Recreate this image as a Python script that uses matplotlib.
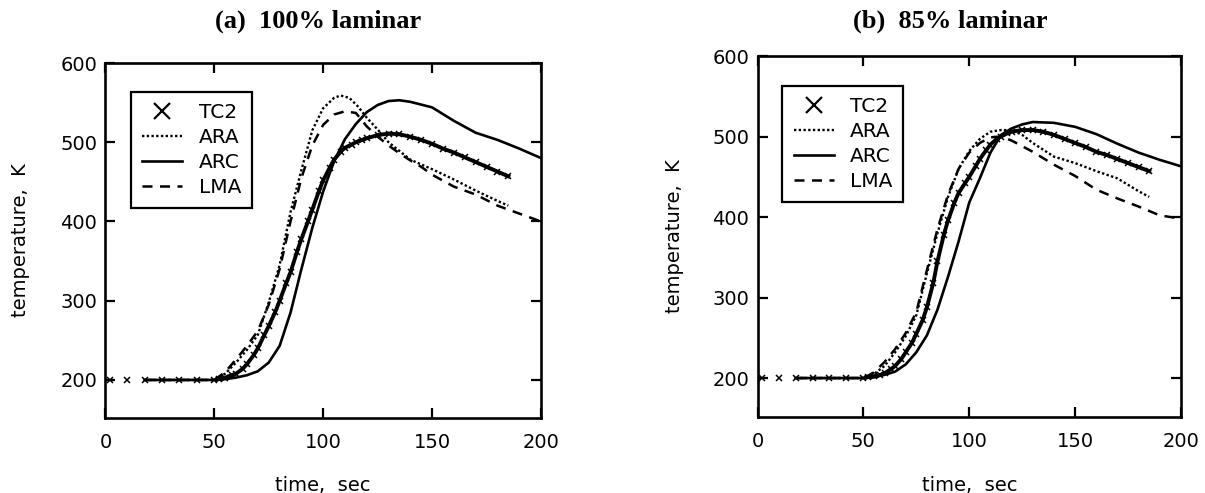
import matplotlib
matplotlib.use("Agg")
import matplotlib.pyplot as plt
from matplotlib.lines import Line2D

plt.rcParams['font.family'] = ['DejaVu Sans']

# ---------------- data: panel (a) 100% laminar ----------------
tc2_sparse_t = [2, 10, 18, 26, 34, 42, 50]
tc2_sparse_T = [200, 200, 200, 200, 200, 200, 200]

a_tc2_t = [52, 55, 58, 60, 63, 65, 68, 70, 73, 75, 78, 80, 83, 85, 88, 90, 93, 95, 98, 100,
           103, 105, 108, 110, 113, 115, 118, 120, 125, 130, 135, 140, 145, 150, 155, 160,
           165, 170, 175, 180, 185]
a_tc2_T = [201, 203, 206, 208, 214, 220, 231, 240, 257, 268, 286, 300, 322, 336, 362, 378,
           400, 415, 438, 452, 468, 478, 488, 493, 497, 500, 503, 505, 509, 511, 510, 507,
           503, 498, 492, 487, 481, 475, 469, 463, 457]

a_ara_t = [18, 50, 55, 60, 65, 70, 75, 80, 85, 90, 95, 100, 105, 108, 112, 116, 120, 125,
           130, 140, 150, 160, 170, 180, 185]
a_ara_T = [200, 200, 208, 222, 238, 257, 298, 345, 412, 465, 515, 543, 556, 559, 556, 545,
           531, 516, 500, 478, 466, 453, 439, 426, 420]

a_arc_t = [18, 50, 55, 60, 65, 70, 75, 80, 85, 90, 95, 100, 105, 110, 115, 120, 125, 130,
           135, 140, 150, 160, 170, 180, 190, 200]
a_arc_T = [200, 200, 201, 203, 206, 211, 222, 243, 285, 340, 392, 438, 476, 504, 523, 538,
           547, 552, 553, 551, 544, 527, 512, 503, 492, 480]

a_lma_t = [18, 50, 55, 60, 65, 70, 75, 80, 85, 90, 95, 100, 105, 110, 115, 120, 125, 130,
           135, 140, 145, 150, 160, 170, 180, 190, 200]
a_lma_T = [200, 200, 210, 226, 243, 262, 295, 340, 400, 455, 496, 522, 535, 539, 537, 520,
           507, 496, 486, 477, 469, 459, 444, 434, 420, 410, 400]

# ---------------- data: panel (b) 85% laminar ----------------
b_tc2_t = [52, 55, 58, 60, 63, 65, 68, 70, 73, 75, 78, 80, 83, 85, 88, 90, 93, 95, 98, 100,
           103, 105, 108, 110, 113, 115, 118, 120, 125, 130, 135, 140, 145, 150, 155, 160,
           165, 170, 175, 180, 185]
b_tc2_T = [201, 202, 204, 206, 211, 215, 224, 232, 244, 255, 272, 288, 318, 345, 378, 396,
           418, 430, 442, 450, 463, 472, 483, 490, 497, 500, 504, 506, 508, 508, 506, 502,
           497, 492, 487, 481, 477, 472, 467, 462, 457]

b_ara_t = [18, 50, 55, 60, 65, 70, 75, 80, 85, 90, 95, 100, 105, 110, 115, 120, 125, 130,
           140, 150, 160, 170, 180, 185]
b_ara_T = [200, 200, 205, 215, 232, 252, 278, 330, 380, 425, 460, 482, 497, 506, 508, 508,
           502, 492, 475, 467, 457, 448, 432, 425]

b_arc_t = [18, 50, 55, 60, 65, 70, 75, 80, 85, 90, 95, 100, 105, 110, 115, 120, 125, 130,
           140, 150, 160, 170, 180, 190, 200]
b_arc_T = [200, 200, 201, 204, 208, 217, 232, 253, 285, 326, 370, 418, 448, 480, 502, 510,
           515, 518, 517, 512, 503, 491, 480, 471, 463]

b_lma_t = [18, 50, 55, 60, 65, 70, 75, 80, 85, 90, 95, 100, 105, 110, 115, 120, 125, 130,
           140, 150, 160, 170, 180, 190, 200]
b_lma_T = [200, 200, 207, 220, 236, 256, 282, 334, 385, 428, 460, 480, 492, 499, 500, 495,
           488, 481, 465, 451, 434, 423, 413, 402, 398]

titles = ["(a)  100% laminar", "(b)  85% laminar"]
legend_labels = ["TC2", "ARA", "ARC", "LMA"]
xticks = [0, 50, 100, 150, 200]
yticks = [200, 300, 400, 500, 600]

panels = [
    (a_tc2_t, a_tc2_T, a_ara_t, a_ara_T, a_arc_t, a_arc_T, a_lma_t, a_lma_T),
    (b_tc2_t, b_tc2_T, b_ara_t, b_ara_T, b_arc_t, b_arc_T, b_lma_t, b_lma_T),
]

W, H = 1205, 493
fig = plt.figure(figsize=(W / 100, H / 100), dpi=100)

# axes boxes in pixels: left, top, right, bottom
boxes = [(105.4, 63, 541, 418), (757.5, 56, 1181, 416.7)]
title_pos = [(318.5, 21.5), (950.5, 21.5)]

ARA_LS = (0, (1, 1.0))
LMA_LS = (0, (4, 3))

for i, (box, data) in enumerate(zip(boxes, panels)):
    l, t, r, b = box
    ax = fig.add_axes([l / W, 1 - b / H, (r - l) / W, (b - t) / H])
    tc2_t, tc2_T, ara_t, ara_T, arc_t, arc_T, lma_t, lma_T = data

    ax.plot(ara_t, ara_T, color='black', lw=1.7, ls=ARA_LS)
    ax.plot(lma_t, lma_T, color='black', lw=1.8, ls=LMA_LS)
    ax.plot(arc_t, arc_T, color='black', lw=1.9, ls='-')
    ax.plot(tc2_t, tc2_T, color='black', lw=2.8, ls='-')
    ax.plot(tc2_t, tc2_T, color='black', ls='none', marker='x', ms=5, mew=1.1)
    ax.plot(tc2_sparse_t, tc2_sparse_T, color='black', ls='none', marker='x', ms=4.5, mew=1.1)

    ax.set_xlim(0, 200)
    ax.set_ylim(152, 600)
    ax.set_xticks(xticks)
    ax.set_yticks(yticks)
    ax.tick_params(axis='both', which='major', direction='in', length=7.5, width=1.6,
                   top=True, right=True, labelsize=14, colors='black')
    ax.tick_params(axis='x', pad=11)
    ax.tick_params(axis='y', pad=6)
    for s in ax.spines.values():
        s.set_linewidth(1.9)

    ax.set_xlabel("time,  sec", fontsize=14)
    ax.set_ylabel("temperature,  K", fontsize=14)
    ax.xaxis.set_label_coords(0.5, (b - 476) / (b - t))
    ax.yaxis.set_label_coords(-0.174, 0.5)

    handles = [
        Line2D([], [], color='black', ls='none', marker='x', ms=11, mew=1.6),
        Line2D([], [], color='black', lw=1.7, ls=ARA_LS),
        Line2D([], [], color='black', lw=1.9, ls='-'),
        Line2D([], [], color='black', lw=1.8, ls=LMA_LS),
    ]
    leg = ax.legend(handles, legend_labels, loc='upper left',
                    bbox_to_anchor=(0.059, 0.918), borderaxespad=0,
                    fontsize=14.5, handlelength=2.0, handletextpad=0.8,
                    labelspacing=0.3, borderpad=0.55, fancybox=False,
                    framealpha=1, edgecolor='black')
    leg.get_frame().set_linewidth(1.6)

    fig.text(title_pos[i][0] / W, 1 - title_pos[i][1] / H, titles[i],
             ha='center', va='center', fontsize=19, fontweight='bold',
             family='Liberation Serif')

fig.savefig("out.png", dpi=100)
